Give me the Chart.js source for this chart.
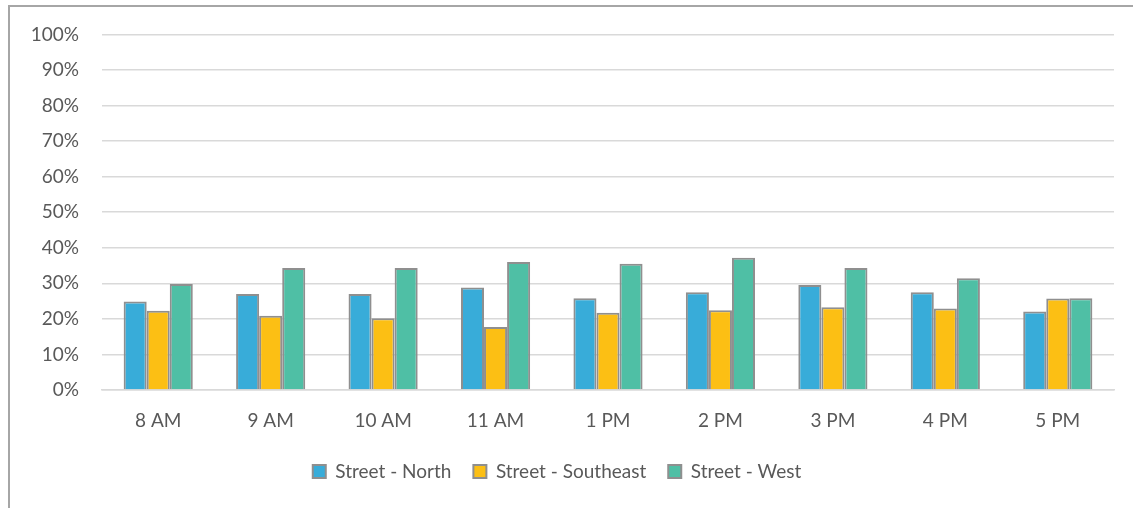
<!DOCTYPE html>
<html>
<head>
<meta charset="utf-8">
<script src="https://cdn.jsdelivr.net/npm/chart.js@4.4.1/dist/chart.umd.min.js"></script>
<style>
  html, body { margin: 0; padding: 0; background: #fff; overflow: hidden; }
  #wrap { position: relative; width: 1133px; height: 508px; }
  #frame { position: absolute; left: 8px; top: 5px; width: 1200px; height: 600px;
           border-top: 2px solid #a6a6a6; border-left: 2px solid #a6a6a6; box-sizing: border-box; }
  canvas { position: absolute; left: 0; top: 0; }
</style>
</head>
<body>
<div id="wrap">
  <div id="frame"></div>
  <canvas id="c" width="1133" height="508"></canvas>
</div>
<script>
const categories = ['8 AM', '9 AM', '10 AM', '11 AM', '1 PM', '2 PM', '3 PM', '4 PM', '5 PM'];
const seriesNames = ['Street - North', 'Street - Southeast', 'Street - West'];
const north     = [24.9, 27.0, 27.0, 28.8, 25.8, 27.5, 29.5, 27.5, 22.1];
const southeast = [22.3, 20.9, 20.2, 17.7, 21.7, 22.4, 23.3, 22.9, 25.7];
const west      = [29.8, 34.3, 34.3, 36.0, 35.5, 37.2, 34.3, 31.4, 25.8];
const yTicks = [0, 10, 20, 30, 40, 50, 60, 70, 80, 90, 100];

const colors = ['#38acd9', '#fcbf14', '#4fbfa5'];
const textColor = '#595959';
const fontFamily = 'Lato, "Open Sans", sans-serif';

const seriesValues = [north, southeast, west];
const datasets = seriesNames.map((name, i) => ({
  label: name,
  data: seriesValues[i],
  backgroundColor: colors[i],
  borderColor: '#8f8f8f',
  borderWidth: 2,
  categoryPercentage: 0.615,
  barPercentage: 1.0
}));

new Chart(document.getElementById('c'), {
  type: 'bar',
  data: { labels: categories, datasets },
  options: {
    responsive: false,
    animation: false,
    devicePixelRatio: 1,
    layout: { padding: { left: 0, right: 19, top: 34, bottom: 17 } },
    plugins: {
      legend: {
        position: 'bottom',
        labels: {
          color: textColor,
          font: { family: fontFamily, size: 19 },
          boxWidth: 13,
          boxHeight: 13,
          padding: 22
        }
      },
      tooltip: { enabled: false }
    },
    scales: {
      x: {
        grid: { display: false, drawTicks: false },
        border: { display: true, color: '#d9d9d9', width: 1.5 },
        ticks: { color: textColor, font: { family: fontFamily, size: 19 }, padding: 19, maxRotation: 0 },
        afterFit: s => { s.height = 50; }
      },
      y: {
        min: 0, max: 100,
        afterBuildTicks: s => { s.ticks = yTicks.map(v => ({ value: v })); },
        grid: { color: '#d9d9d9', lineWidth: 1.5, drawTicks: false },
        border: { display: false },
        ticks: { color: textColor, font: { family: fontFamily, size: 19 }, padding: 23,
                 callback: v => v + '%' },
        afterFit: s => { s.width = 102; }
      }
    }
  }
});
</script>
</body>
</html>
